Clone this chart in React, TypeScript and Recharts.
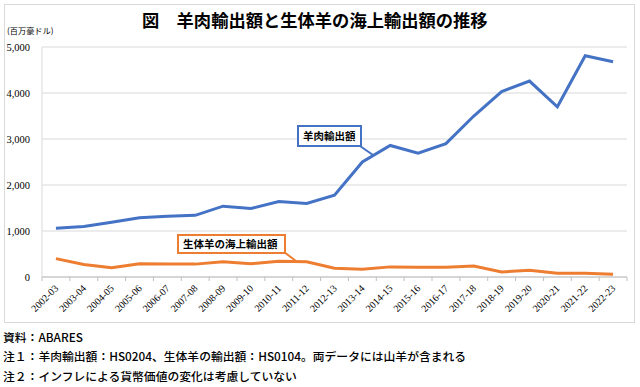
import React from 'react';
import { LineChart, Line, XAxis, YAxis, CartesianGrid } from 'recharts';

// 年度（豪州会計年度）
const years = [
  '2002-03', '2003-04', '2004-05', '2005-06', '2006-07', '2007-08', '2008-09',
  '2009-10', '2010-11', '2011-12', '2012-13', '2013-14', '2014-15', '2015-16',
  '2016-17', '2017-18', '2018-19', '2019-20', '2020-21', '2021-22', '2022-23',
];

// 羊肉輸出額（百万豪ドル）
const meatExports = [
  1060, 1100, 1190, 1290, 1320, 1340, 1540, 1490, 1640, 1600, 1780,
  2500, 2860, 2690, 2900, 3500, 4030, 4260, 3700, 4810, 4680,
];

// 生体羊の海上輸出額（百万豪ドル）
const liveExports = [
  400, 270, 200, 290, 280, 280, 330, 290, 340, 330, 190,
  170, 220, 210, 210, 240, 110, 145, 80, 80, 60,
];

const yTicks = [0, 1000, 2000, 3000, 4000, 5000];

const data = years.map((year, i) => ({
  year,
  meat: meatExports[i],
  live: liveExports[i],
}));

const BLUE = '#4472C4';
const ORANGE = '#ED7D31';
const SERIF = '"Liberation Serif", "DejaVu Serif", serif';
const GOTHIC = '"Noto Sans CJK JP", "Noto Sans", sans-serif';

const PLOT_LEFT = 42;
const PLOT_RIGHT = 13;
const STEP = (640 - PLOT_LEFT - PLOT_RIGHT) / years.length;

const XTick = (props: any) => {
  const { x, y, payload, index } = props;
  const tx = x + 3;
  const ty = y + 12;
  return (
    <g>
      <line x1={x + STEP / 2} x2={x + STEP / 2} y1={y} y2={y + 4} stroke="#bfbfbf" />
      {index === 0 && (
        <line x1={x - STEP / 2} x2={x - STEP / 2} y1={y} y2={y + 4} stroke="#bfbfbf" />
      )}
      <text
        x={tx}
        y={ty}
        transform={`rotate(-45, ${tx}, ${ty})`}
        textAnchor="end"
        fontSize={10}
        fontFamily={SERIF}
        fill="#000"
      >
        {payload.value}
      </text>
    </g>
  );
};

const YTick = (props: any) => {
  const { y, payload } = props;
  return (
    <text x={30} y={y + 4} textAnchor="end" fontSize={10.5} fontFamily={SERIF} fill="#000">
      {payload.value.toLocaleString('en-US')}
    </text>
  );
};

const noteStyle: React.CSSProperties = {
  position: 'absolute',
  left: 3,
  fontFamily: GOTHIC,
  fontSize: 11.8,
  fontWeight: 500,
  color: '#000',
  whiteSpace: 'nowrap',
  lineHeight: '14px',
};

const App: React.FC = () => {
  return (
    <div
      style={{
        position: 'absolute',
        left: 0,
        top: 0,
        width: 640,
        height: 387,
        background: '#fff',
        overflow: 'hidden',
      }}
    >
      <div
        style={{
          position: 'absolute',
          left: 4,
          top: 4,
          width: 631,
          height: 319,
          border: '1px solid #d9d9d9',
          boxSizing: 'border-box',
        }}
      />
      <div
        style={{
          position: 'absolute',
          left: 142,
          top: 9,
          fontFamily: GOTHIC,
          fontSize: 17.3,
          fontWeight: 700,
          whiteSpace: 'nowrap',
          lineHeight: '22px',
        }}
      >
        図　羊肉輸出額と生体羊の海上輸出額の推移
      </div>
      <div
        style={{
          position: 'absolute',
          left: 7,
          top: 24,
          fontFamily: GOTHIC,
          fontSize: 8.2,
          whiteSpace: 'nowrap',
          lineHeight: '12px',
        }}
      >
        (百万豪ドル)
      </div>

      <div style={{ position: 'absolute', left: 0, top: 0 }}>
        <LineChart
          width={640}
          height={330}
          data={data}
          margin={{ top: 47, right: PLOT_RIGHT, left: 0, bottom: 0 }}
        >
          <CartesianGrid vertical={false} stroke="#d9d9d9" strokeWidth={1} />
          <XAxis
            dataKey="year"
            interval={0}
            height={53}
            tickSize={0}
            tickMargin={0}
            padding={{ left: STEP / 2, right: STEP / 2 }}
            axisLine={{ stroke: '#bfbfbf' }}
            tick={<XTick />}
          />
          <YAxis
            width={PLOT_LEFT}
            domain={[0, 5000]}
            ticks={yTicks}
            tickSize={0}
            axisLine={{ stroke: '#d9d9d9' }}
            tick={<YTick />}
          />
          <Line
            dataKey="meat"
            stroke={BLUE}
            strokeWidth={3}
            dot={false}
            type="linear"
            isAnimationActive={false}
          />
          <Line
            dataKey="live"
            stroke={ORANGE}
            strokeWidth={3}
            dot={false}
            type="linear"
            isAnimationActive={false}
          />
        </LineChart>
      </div>

      {/* 吹き出し */}
      <svg
        width={640}
        height={387}
        style={{ position: 'absolute', left: 0, top: 0, pointerEvents: 'none' }}
      >
        <line x1={360} y1={146} x2={373} y2={155} stroke={BLUE} strokeWidth={2} />
        <line x1={284} y1={252} x2={296} y2={261} stroke={ORANGE} strokeWidth={2} />
      </svg>
      <div
        style={{
          position: 'absolute',
          left: 297,
          top: 125,
          width: 65,
          height: 22,
          border: `2px solid ${BLUE}`,
          boxSizing: 'border-box',
          background: '#fff',
          fontFamily: GOTHIC,
          fontSize: 10.5,
          fontWeight: 700,
          lineHeight: '18px',
          paddingLeft: 4,
          whiteSpace: 'nowrap',
        }}
      >
        羊肉輸出額
      </div>
      <div
        style={{
          position: 'absolute',
          left: 177,
          top: 234,
          width: 109,
          height: 20,
          border: `2px solid ${ORANGE}`,
          boxSizing: 'border-box',
          background: '#fff',
          fontFamily: GOTHIC,
          fontSize: 10.5,
          fontWeight: 700,
          lineHeight: '16px',
          paddingLeft: 4,
          whiteSpace: 'nowrap',
        }}
      >
        生体羊の海上輸出額
      </div>

      <div style={{ ...noteStyle, top: 330 }}>資料：ABARES</div>
      <div style={{ ...noteStyle, top: 349 }}>
        注１：羊肉輸出額：HS0204、生体羊の輸出額：HS0104。両データには山羊が含まれる
      </div>
      <div style={{ ...noteStyle, top: 369 }}>注２：インフレによる貨幣価値の変化は考慮していない</div>
    </div>
  );
};

export default App;
